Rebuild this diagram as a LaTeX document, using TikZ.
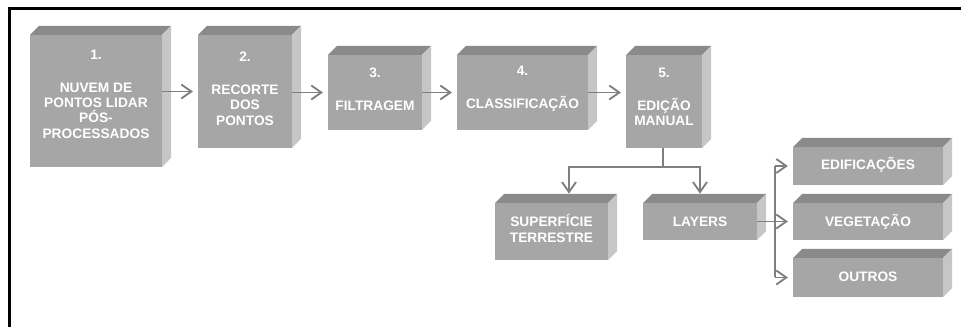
\documentclass[tikz,border=0pt]{standalone}
\usepackage{fontspec}
\setmainfont{Liberation Sans}
\usetikzlibrary{arrows.meta,fit}
\definecolor{frontc}{HTML}{A6A6A6}
\definecolor{topc}{HTML}{8A8A8A}
\definecolor{sidec}{HTML}{C6C6C6}
\definecolor{linec}{HTML}{7F7F7F}
\newcommand\dd{9}
% name, x1, y1, x2, y2, text shift up (px), text
\newcommand\solidbox[7]{%
  \node[face, fit={(#2,#3) (#4,#5)}] (#1) {};
  \fill[topc] (#1.north west) -- ++(\dd,-\dd) -- ([shift={(\dd,-\dd)}]#1.north east) -- (#1.north east) -- cycle;
  \fill[sidec] (#1.north east) -- ++(\dd,-\dd) -- ([shift={(\dd,-\dd)}]#1.south east) -- (#1.south east) -- cycle;
  \node[lbl] (#1-t) at ([yshift=#6*0.75pt]#1.center) {#7};
}
\begin{document}
\begin{tikzpicture}[x=0.75pt,y=-0.75pt,
  face/.style={fill=frontc, inner sep=0pt, outer sep=0pt},
  lbl/.style={text=white, font=\bfseries\fontsize{10.3}{11.5}\selectfont, align=center, inner sep=0pt},
  plain/.style={draw=linec, line width=1.4pt},
  conn/.style={plain, -{Straight Barb[length=7.5pt,width=10.5pt,line width=1.4pt]}, shorten >=3.8pt}]
\useasboundingbox (0,0) rectangle (961,327);
\draw[line width=1.9pt] (9.5,327) -- (9.5,8.5) -- (961,8.5);

\solidbox{b1}{30}{35}{162}{167}{7}{1.\\[13.3pt]NUVEM DE\\PONTOS LIDAR\\PÓS-\\PROCESSADOS}
\solidbox{b2}{198}{35}{292}{148}{3}{2.\\[13.3pt]RECORTE\\DOS\\PONTOS}
\solidbox{b3}{328}{55}{422}{130}{3.5}{3.\\[13.3pt]FILTRAGEM}
\solidbox{b4}{457}{55}{588}{130}{3.5}{4.\\[13.3pt]CLASSIFICAÇÃO}
\solidbox{b5}{626}{55}{702}{148}{4.5}{5.\\[13.3pt]EDIÇÃO\\MANUAL}
\solidbox{sup}{495}{203}{608}{260}{3}{SUPERFÍCIE\\TERRESTRE}
\solidbox{lay}{643}{203}{757}{240}{0}{LAYERS}
\solidbox{edi}{793}{147}{943}{185}{1}{EDIFICAÇÕES}
\solidbox{veg}{793}{203}{943}{240}{0}{VEGETAÇÃO}
\solidbox{out}{793}{258}{943}{297}{1}{OUTROS}

\draw[conn] (b1.east |- b2.west) -- (b2.west);
\draw[conn] (b2.east |- b3.west) -- (b3.west);
\draw[conn] (b3.east) -- (b4.west);
\draw[conn] (b4.east) -- (b4.east -| b5.west);

\coordinate (jm) at (663,167);
\coordinate (jl) at (569,167);
\draw[plain] (b5.south -| jm) -- (jm);
\draw[conn, shorten >=7pt] (jm) -| (jl |- sup.north);
\draw[conn, shorten >=7pt] (jm) -| (lay.north);

\coordinate (bx) at (775,0);
\draw[plain] (bx |- edi.west) -- (bx |- out.west);
\draw[conn] (lay.east) -- (lay.east -| veg.west);
\draw[conn] (bx |- edi.west) -- (edi.west);
\draw[conn] (bx |- out.west) -- (out.west);
\end{tikzpicture}
\end{document}
